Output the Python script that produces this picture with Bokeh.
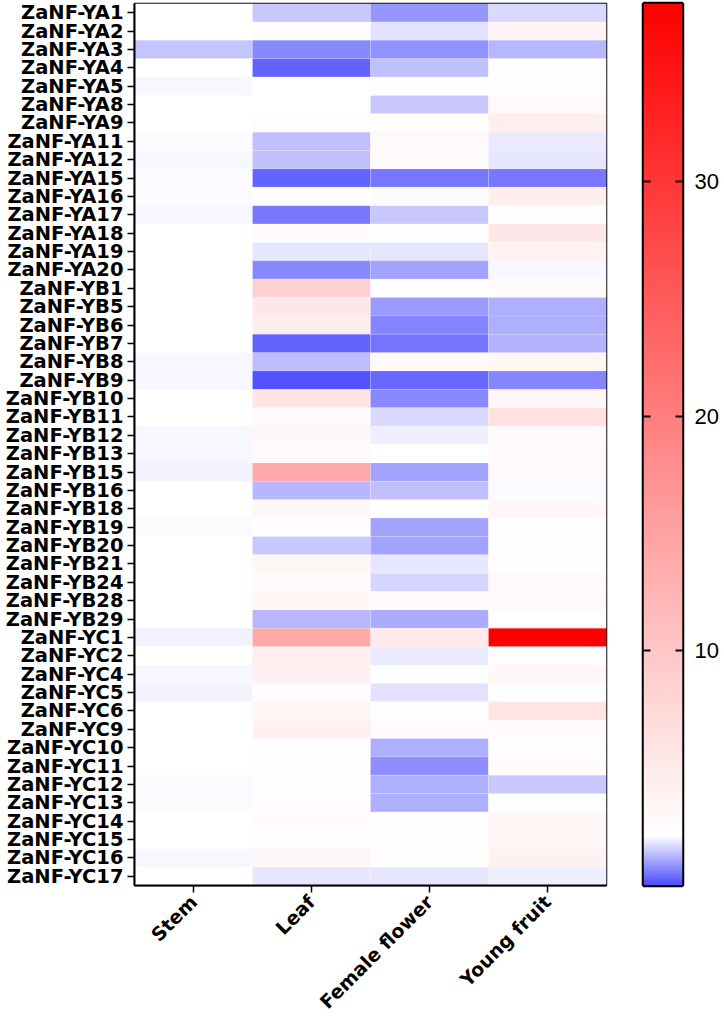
import numpy as np
from bokeh.plotting import figure
from bokeh.layouts import row
from bokeh.models import ColumnDataSource, LinearColorMapper, FixedTicker, FactorRange, LinearAxis, Range1d
from bokeh.transform import transform
from bokeh.embed import file_html
from bokeh.resources import INLINE

genes = ["ZaNF-YA1", "ZaNF-YA2", "ZaNF-YA3", "ZaNF-YA4", "ZaNF-YA5", "ZaNF-YA8", "ZaNF-YA9",
         "ZaNF-YA11", "ZaNF-YA12", "ZaNF-YA15", "ZaNF-YA16", "ZaNF-YA17", "ZaNF-YA18", "ZaNF-YA19",
         "ZaNF-YA20", "ZaNF-YB1", "ZaNF-YB5", "ZaNF-YB6", "ZaNF-YB7", "ZaNF-YB8", "ZaNF-YB9",
         "ZaNF-YB10", "ZaNF-YB11", "ZaNF-YB12", "ZaNF-YB13", "ZaNF-YB15", "ZaNF-YB16", "ZaNF-YB18",
         "ZaNF-YB19", "ZaNF-YB20", "ZaNF-YB21", "ZaNF-YB24", "ZaNF-YB28", "ZaNF-YB29", "ZaNF-YC1",
         "ZaNF-YC2", "ZaNF-YC4", "ZaNF-YC5", "ZaNF-YC6", "ZaNF-YC9", "ZaNF-YC10", "ZaNF-YC11",
         "ZaNF-YC12", "ZaNF-YC13", "ZaNF-YC14", "ZaNF-YC15", "ZaNF-YC16", "ZaNF-YC17"]

tissues = ["Stem", "Leaf", "Female flower", "Young fruit"]

stem = [2.1, 2.1, 1.44, 2.1, 2.04, 2.1, 2.1, 2.07, 2.04, 2.05, 2.05, 2.02, 2.1, 2.1, 2.1,
        2.1, 2.1, 2.1, 2.1, 2.02, 2.0, 2.1, 2.1, 2.02, 2.02, 1.99, 2.1, 2.1, 2.06, 2.1,
        2.1, 2.1, 2.1, 2.1, 1.98, 2.1, 2.04, 1.96, 2.1, 2.1, 2.1, 2.1, 2.08, 2.08, 2.1,
        2.1, 2.04, 2.1]
leaf = [1.49, 2.5, 0.72, 0.26, 2.1, 2.15, 2.5, 1.39, 1.39, 0.29, 2.4, 0.52, 2.7, 1.82, 0.70,
        8.6, 5.4, 4.5, 0.28, 1.33, 0.06, 5.8, 2.7, 3.3, 2.9, 13.9, 1.28, 3.4, 2.4, 1.45,
        3.4, 2.6, 3.4, 1.26, 14.2, 4.5, 4.0, 2.5, 3.4, 4.0, 2.3, 2.3, 2.5, 2.5, 2.7,
        2.2, 3.2, 1.8]
female = [0.88, 1.78, 0.83, 1.37, 2.4, 1.49, 2.3, 3.0, 2.6, 0.52, 2.6, 1.46, 2.2, 1.82, 1.0,
          2.2, 0.9, 0.65, 0.48, 2.9, 0.34, 0.71, 1.68, 1.92, 2.15, 1.0, 1.39, 2.15, 1.04, 1.04,
          1.84, 1.64, 2.9, 1.14, 5.2, 1.88, 2.2, 1.78, 2.3, 2.6, 1.15, 0.79, 1.15, 1.17, 2.4,
          2.3, 2.5, 1.8]
young = [1.69, 3.6, 1.28, 2.2, 2.5, 2.9, 4.5, 1.88, 1.8, 0.52, 4.4, 2.3, 5.4, 3.9, 2.02,
         2.7, 1.15, 1.17, 1.21, 3.3, 0.68, 3.2, 6.3, 2.6, 3.0, 3.0, 2.05, 3.2, 2.2, 2.3,
         2.3, 2.9, 2.8, 2.15, 37.6, 2.25, 3.2, 2.3, 5.8, 2.6, 2.2, 2.7, 1.49, 2.2, 3.3,
         3.4, 4.0, 1.92]

color_low, color_mid, color_high = 0.0, 2.1, 37.6
colorbar_ticks = [10, 20, 30]


def make_palette(n=753):
    cols = []
    for i in range(n):
        v = color_low + (color_high - color_low) * i / (n - 1)
        if v <= color_mid:
            t = (v - color_low) / (color_mid - color_low)
            c = int(round(78 + (255 - 78) * t))
            r, g, b = c, c, 255
        else:
            t = (v - color_mid) / (color_high - color_mid)
            c = int(round(255 * (1 - t)))
            r, g, b = 255, c, c
        cols.append("#%02x%02x%02x" % (r, g, b))
    return cols


xs, ys, vals = [], [], []
for gi, g in enumerate(genes):
    for ti, series in enumerate([stem, leaf, female, young]):
        xs.append(tissues[ti])
        ys.append(g)
        vals.append(series[gi])
source = ColumnDataSource(dict(x=xs, y=ys, v=vals))

palette = make_palette()
mapper = LinearColorMapper(palette=palette, low=color_low, high=color_high)

p = figure(width=620, height=1024,
           x_range=FactorRange(*tissues), y_range=FactorRange(*genes[::-1]),
           output_backend="svg", toolbar_location=None,
           min_border_left=134, min_border_top=3, min_border_bottom=137, min_border_right=14)
p.x_range.range_padding = 0
p.y_range.range_padding = 0

p.rect(x="x", y="y", width=1, height=1, source=source,
       fill_color=transform("v", mapper), line_color="white", line_alpha=0.25, line_width=0.6)

p.grid.visible = False
p.outline_line_color = "black"
p.outline_line_width = 1.5

for ax in (p.xaxis[0], p.yaxis[0]):
    ax.axis_line_width = 2
    ax.axis_line_color = "black"
    ax.major_tick_line_width = 1.5
    ax.major_tick_line_color = "black"
    ax.major_tick_out = 7
    ax.major_tick_in = 0
    ax.minor_tick_line_color = None
    ax.major_label_text_font = "DejaVu Sans"
    ax.major_label_text_font_style = "bold"
    ax.major_label_text_color = "black"

p.yaxis.major_label_text_font_size = "19.5px"
p.yaxis.major_label_standoff = 4
p.xaxis.major_label_text_font_size = "19px"
p.xaxis.major_label_orientation = np.pi / 4
p.xaxis.major_label_standoff = 6

# colour bar as its own small figure
cbf = figure(width=104, height=1024, x_range=Range1d(0, 1), y_range=Range1d(color_low, color_high),
             output_backend="svg", toolbar_location=None, y_axis_location="right",
             min_border_left=23, min_border_right=42, min_border_top=3, min_border_bottom=139)
grad = np.linspace(color_low, color_high, len(palette)).reshape(len(palette), 1)
cbf.image(image=[grad], x=0, y=color_low, dw=1, dh=color_high - color_low, color_mapper=mapper)
cbf.grid.visible = False
cbf.xaxis.visible = False
cbf.outline_line_color = "black"
cbf.outline_line_width = 3.5

ra = cbf.yaxis[0]
ra.ticker = FixedTicker(ticks=colorbar_ticks)
ra.axis_line_color = None
ra.major_tick_in = 7
ra.major_tick_out = 0
ra.major_tick_line_width = 2
ra.major_tick_line_color = "black"
ra.minor_tick_line_color = None
ra.major_label_text_font = "Liberation Sans"
ra.major_label_text_font_size = "22px"
ra.major_label_text_color = "black"
ra.major_label_standoff = 12

la = LinearAxis(ticker=FixedTicker(ticks=colorbar_ticks), axis_line_color=None,
                major_tick_in=7, major_tick_out=0, major_tick_line_width=2,
                major_tick_line_color="black", minor_tick_line_color=None,
                major_label_text_font_size="0px", major_label_text_color=None)
cbf.add_layout(la, "left")

layout = row(p, cbf)
open("out.html", "w").write(file_html(layout, INLINE))
